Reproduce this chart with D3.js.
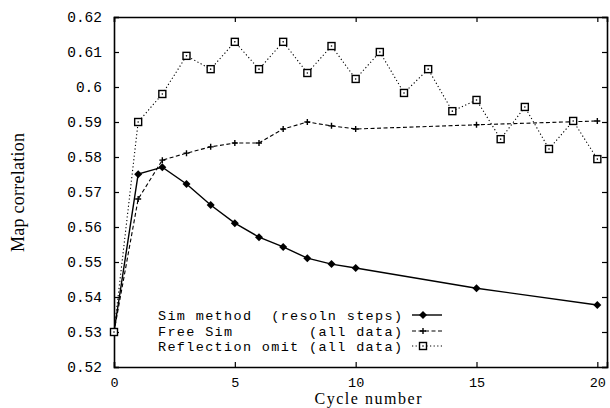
<!DOCTYPE html>
<html>
<head>
<meta charset="utf-8">
<script src="https://cdn.jsdelivr.net/npm/d3@7"></script>
<style>
  body { margin: 0; background: #fff; }
  svg { display: block; }
  .mono { font-family: "Liberation Mono", "DejaVu Sans Mono", monospace; }
  .serif { font-family: "Liberation Serif", "DejaVu Serif", serif; }
</style>
</head>
<body>
<svg id="chart" width="610" height="408"></svg>
<script>
// data
const simX = [0, 1, 2, 3, 4, 5, 6, 7, 8, 9, 10, 15, 20]
const simY = [0.530, 0.5751, 0.5771, 0.5723, 0.5663, 0.5611, 0.5571, 0.5543, 0.5511, 0.5494, 0.5483, 0.5425, 0.5377]

const freeX = [0, 1, 2, 3, 4, 5, 6, 7, 8, 9, 10, 15, 20]
const freeY = [0.530, 0.568, 0.5791, 0.5811, 0.5829, 0.584, 0.584, 0.588, 0.590, 0.5889, 0.588, 0.5892, 0.5903]

const reflX = [0, 1, 2, 3, 4, 5, 6, 7, 8, 9, 10, 11, 12, 13, 14, 15, 16, 17, 18, 19, 20]
const reflY = [0.530, 0.590, 0.598, 0.6089, 0.6051, 0.6129, 0.6051, 0.6129, 0.604, 0.6117, 0.6023,
               0.610, 0.5983, 0.6051, 0.5931, 0.5963, 0.5851, 0.5943, 0.5823, 0.5903, 0.5794]

const xTicks = [0, 5, 10, 15, 20]
const yTicks = [0.52, 0.53, 0.54, 0.55, 0.56, 0.57, 0.58, 0.59, 0.6, 0.61, 0.62]
const legendLabels = ['Sim method  (resoln steps)', 'Free Sim        (all data)', 'Reflection omit (all data)']

const margin = { left: 114, right: 3, top: 17, bottom: 41 }
const width = 610, height = 408
const svg = d3.select('#chart')

const x = d3.scaleLinear().domain([0, 20.4]).range([margin.left, width - margin.right])
const y = d3.scaleLinear().domain([0.52, 0.62]).range([height - margin.bottom, margin.top])

const fmt = d => d === 0.6 ? '0.6' : d3.format('.2f')(d)

// axes, ticks pointing inward like the original
const xAxisG = svg.append('g')
    .attr('transform', `translate(0,${y(0.52)})`)
    .call(d3.axisBottom(x).tickValues(xTicks).tickSize(-5).tickPadding(10).tickFormat(d3.format('d')))
svg.append('g')
    .attr('transform', `translate(0,${y(0.62)})`)
    .call(d3.axisTop(x).tickValues(xTicks).tickSize(-5).tickFormat(''))
const yAxisG = svg.append('g')
    .attr('transform', `translate(${x(0)},0)`)
    .call(d3.axisLeft(y).tickValues(yTicks).tickSize(-5).tickPadding(12).tickFormat(fmt))
svg.append('g')
    .attr('transform', `translate(${x.range()[1]},0)`)
    .call(d3.axisRight(y).tickValues(yTicks).tickSize(-5).tickFormat(''))

svg.selectAll('.domain').attr('stroke', '#000').attr('stroke-width', 1.6)
svg.selectAll('.tick line').attr('stroke', '#000').attr('stroke-width', 1.2)
svg.selectAll('.tick text')
    .attr('class', 'mono')
    .attr('fill', '#000')
xAxisG.selectAll('.tick text').attr('font-size', 13.5)
yAxisG.selectAll('.tick text').attr('font-size', 14.5)

svg.append('text')
    .attr('class', 'serif')
    .attr('x', 368).attr('y', 404)
    .attr('text-anchor', 'middle')
    .attr('font-size', 16)
    .attr('textLength', 107)
    .text('Cycle number')
svg.append('text')
    .attr('class', 'serif')
    .attr('transform', `translate(24,192.5) rotate(-90)`)
    .attr('text-anchor', 'middle')
    .attr('font-size', 18)
    .attr('textLength', 119)
    .text('Map correlation')

const line = d3.line().x(d => x(d[0])).y(d => y(d[1]))
const zip = (a, b) => a.map((v, i) => [v, b[i]])

const series = [
    { pts: zip(simX, simY), dash: null, width: 1.4, marker: 'diamond' },
    { pts: zip(freeX, freeY), dash: '4,2.5', width: 1.1, marker: 'plus' },
    { pts: zip(reflX, reflY), dash: '1.2,2.4', width: 1.1, marker: 'square' }
]

function drawMarker(g, type, cx, cy) {
    if (type === 'diamond') {
        g.append('path')
            .attr('d', `M${cx},${cy - 4}L${cx + 4},${cy}L${cx},${cy + 4}L${cx - 4},${cy}Z`)
            .attr('fill', '#000')
    } else if (type === 'plus') {
        g.append('path')
            .attr('d', `M${cx - 3},${cy}H${cx + 3}M${cx},${cy - 3}V${cy + 3}`)
            .attr('stroke', '#000').attr('stroke-width', 1.4)
    } else {
        g.append('rect')
            .attr('x', cx - 3.5).attr('y', cy - 3.5).attr('width', 7).attr('height', 7)
            .attr('fill', '#fff').attr('stroke', '#000').attr('stroke-width', 1.4)
        g.append('circle').attr('cx', cx).attr('cy', cy).attr('r', 0.8).attr('fill', '#000')
    }
}

series.forEach(s => {
    svg.append('path')
        .attr('d', line(s.pts))
        .attr('fill', 'none')
        .attr('stroke', '#000')
        .attr('stroke-width', s.width)
        .attr('stroke-dasharray', s.dash)
    const g = svg.append('g')
    s.pts.forEach(p => drawMarker(g, s.marker, x(p[0]), y(p[1])))
})

// legend
const legendY = [315, 331, 346]
legendLabels.forEach((lab, i) => {
    svg.append('text')
        .attr('class', 'mono')
        .attr('xml:space', 'preserve')
        .attr('x', 402).attr('y', legendY[i] + 4.5)
        .attr('text-anchor', 'end')
        .attr('font-size', 13.5)
        .attr('textLength', 244)
        .style('white-space', 'pre')
        .text(lab)
    svg.append('line')
        .attr('x1', 412).attr('x2', 442)
        .attr('y1', legendY[i]).attr('y2', legendY[i])
        .attr('stroke', '#000')
        .attr('stroke-width', series[i].width)
        .attr('stroke-dasharray', series[i].dash)
    drawMarker(svg.append('g'), series[i].marker, 423, legendY[i])
})
</script>
</body>
</html>
